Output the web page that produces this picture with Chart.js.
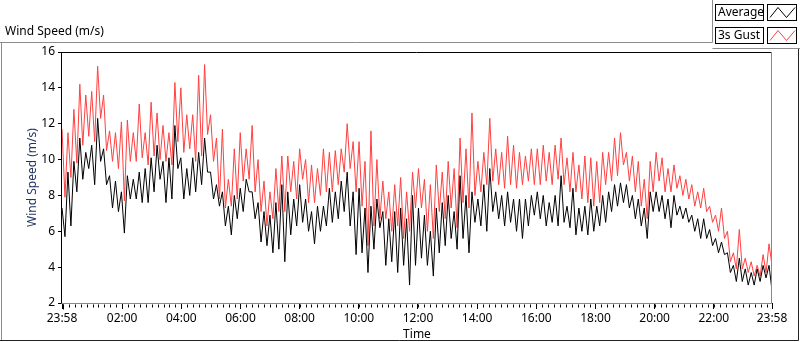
<!DOCTYPE html>
<html>
<head>
<meta charset="utf-8">
<script src="https://cdn.jsdelivr.net/npm/chart.js@4.4.1/dist/chart.umd.min.js"></script>
<style>
  html, body { margin: 0; padding: 0; background: #fff; }
  #wrap { width: 800px; height: 342px; position: relative; }
</style>
</head>
<body>
<div id="wrap"><canvas id="windChart" width="800" height="342"></canvas></div>
<script>
// Values, one high/low pair per ~12 minutes of the day
const averageSpeed = [
  7.3,5.7, 9.3,6.3, 9.9,8.2, 11.2,8.9, 10.4,9.5, 10.8,8.6, 12.3,9.9, 10.6,8.6, 9.1,7.3, 8.8,7.1,
  8.2,5.9, 9.1,7.8, 8.9,7.8, 9.3,7.6, 9.5,7.6, 10.1,8.2, 10.8,8.9, 9.9,7.6, 10.1,7.8, 11.9,9.5,
  10.1,7.8, 9.5,8.0, 10.1,8.2, 10.4,8.6, 11.2,9.3, 9.3,7.8, 8.6,7.4, 8.2,6.3, 7.4,5.8, 8.0,6.7,
  8.4,7.1, 8.9,8.2, 8.2,6.7, 7.6,5.4, 7.1,5.2, 6.9,4.8, 7.6,5.0, 8.6,4.3, 8.2,5.8, 7.8,6.3,
  8.6,6.5, 7.8,6.0, 7.1,5.3, 7.4,6.0, 7.4,6.3, 8.4,6.5, 8.2,6.7, 8.8,7.1, 9.3,6.3, 8.2,4.7,
  8.4,4.8, 7.3,3.7, 7.4,5.0, 7.8,6.2, 7.1,4.1, 6.7,4.3, 7.1,3.7, 7.3,4.1, 6.7,3.0, 8.0,4.1,
  7.3,4.5, 6.9,4.1, 6.0,3.5, 7.3,4.8, 7.6,5.2, 8.0,5.6, 7.1,5.0, 9.1,5.6, 8.0,4.8, 8.2,6.5,
  7.8,6.3, 8.6,6.0, 9.5,7.1, 8.2,6.7, 8.0,6.3, 8.2,6.5, 7.8,6.0, 7.8,5.6, 7.8,6.3, 8.0,6.9,
  8.2,6.7, 8.0,6.3, 7.6,6.5, 8.0,6.3, 9.1,6.5, 7.4,6.2, 8.4,5.8, 7.3,6.0, 7.4,5.8, 7.8,6.0,
  7.4,6.3, 8.0,6.5, 8.2,7.1, 8.6,7.4, 8.7,7.6, 8.6,7.3, 8.0,6.7, 7.8,6.3, 7.3,5.6, 8.2,7.1,
  8.2,7.1, 8.0,6.7, 7.8,6.2, 8.0,6.9, 7.4,6.7, 7.3,6.5, 6.9,6.0, 6.7,5.6, 6.7,5.6, 6.1,5.2,
  5.6,4.8, 5.4,4.7, 4.8,3.7, 4.1,3.2, 4.5,3.2, 3.9,3.0, 3.7,3.0, 3.9,3.2, 4.1,3.4, 4.1,2.7
];
const gustSpeed = [
  11.7,7.9, 11.5,9.0, 12.8,9.8, 14.2,10.8, 13.6,11.3, 13.8,11.0, 15.2,12.3, 13.6,10.5, 11.6,9.9, 11.5,9.5,
  12.1,7.7, 12.2,9.9, 11.5,9.9, 13.1,10.1, 11.5,9.7, 13.2,10.2, 12.6,10.0, 11.9,9.9, 11.5,9.7, 14.3,11.0,
  14.0,10.4, 12.5,10.6, 12.5,9.9, 14.7,10.2, 15.3,11.4, 12.5,9.9, 11.2,7.8, 11.7,7.3, 8.9,7.4, 10.6,7.8,
  11.5,8.8, 10.6,8.9, 11.9,8.2, 10.0,7.1, 8.8,6.3, 8.2,6.7, 9.5,7.1, 10.2,7.1, 10.2,8.2, 9.9,7.8,
  10.6,8.9, 10.0,7.6, 9.7,7.6, 9.5,8.0, 10.6,8.2, 10.4,8.2, 10.5,8.6, 10.6,9.3, 12.0,9.5, 11.0,8.2,
  11.0,7.4, 9.9,5.2, 11.6,6.3, 10.0,6.7, 8.8,6.7, 8.2,6.0, 8.6,6.3, 9.0,5.6, 8.2,6.0, 9.3,7.3,
  9.5,7.3, 8.9,6.0, 8.6,5.6, 9.7,7.1, 9.3,6.7, 9.9,7.3, 9.5,6.2, 11.2,7.6, 10.6,7.3, 12.6,8.0,
  9.9,8.2, 10.4,8.6, 12.3,8.8, 10.6,8.6, 10.4,8.4, 11.3,8.6, 10.8,8.4, 10.4,8.6, 10.2,8.8, 10.6,8.6,
  10.6,8.6, 10.8,8.8, 10.4,8.6, 10.8,8.9, 11.2,8.6, 10.1,8.2, 10.4,8.2, 9.7,7.8, 10.2,7.6, 10.1,7.4,
  9.9,7.6, 10.4,8.6, 10.4,8.8, 11.2,9.1, 11.5,9.7, 10.4,8.8, 10.2,8.2, 9.9,7.4, 8.9,6.7, 9.9,8.2,
  10.4,8.8, 10.1,8.2, 9.5,8.2, 9.7,8.4, 9.1,8.0, 8.9,7.8, 8.6,7.4, 8.2,7.3, 8.4,7.1, 7.4,6.5,
  6.9,6.0, 7.3,5.6, 6.0,4.3, 4.8,3.9, 6.1,3.9, 4.5,3.7, 4.3,3.5, 4.1,3.5, 4.7,3.7, 5.3,4.1
];

const timeLabels = ['23:58', '02:00', '04:00', '06:00', '08:00', '10:00', '12:00',
                    '14:00', '16:00', '18:00', '20:00', '22:00', '23:58'];
const timeTicks = [0, 122, 242, 362, 482, 602, 722, 842, 962, 1082, 1202, 1322, 1440]; // minutes since 23:58
const speedTicks = [2, 4, 6, 8, 10, 12, 14, 16];

const DAY = 1440;
function toPoints(values) {
    const step = DAY / (values.length - 1);
    return values.map(function (v, i) { return { x: i * step, y: v }; });
}

const FONT = "'Noto Sans', sans-serif";
Chart.defaults.font.family = FONT;
Chart.defaults.font.size = 12;
Chart.defaults.color = '#000';

// frame, minor ticks and the LabVIEW style legend
const panelPlugin = {
    id: 'panel',
    beforeDraw(chart) {
        const c = chart.ctx;
        c.save();
        c.fillStyle = '#fff';
        c.fillRect(0, 0, chart.width, chart.height);
        c.fillStyle = '#000';
        c.font = '12px ' + FONT;
        c.textBaseline = 'middle';
        c.fillText('Wind Speed (m/s)', 5, 32);
        c.restore();
    },
    afterDraw(chart) {
        const c = chart.ctx;
        const a = chart.chartArea;
        const xs = chart.scales.x;
        c.save();
        c.lineWidth = 1;

        // outer panel
        c.strokeStyle = '#8c8c8c';
        c.beginPath();
        c.moveTo(0, 42.5); c.lineTo(712.5, 42.5); c.lineTo(712.5, 0);
        c.moveTo(712.5, 48.5); c.lineTo(800, 48.5);
        c.moveTo(1.5, 42.5); c.lineTo(1.5, 341);
        c.stroke();
        c.strokeStyle = '#222';
        c.beginPath();
        c.moveTo(0, 340.5); c.lineTo(798.5, 340.5); c.lineTo(798.5, 49);
        c.stroke();

        // plot frame
        const L = Math.round(a.left) - 0.5, R = Math.round(a.right) - 0.5;
        const T = Math.round(a.top) + 0.5, B = Math.round(a.bottom) + 0.5;
        c.strokeStyle = '#000';
        c.beginPath();
        c.moveTo(L, B); c.lineTo(L, T); c.lineTo(R, T);
        c.stroke();
        c.strokeStyle = '#888';
        c.beginPath();
        c.moveTo(R, T); c.lineTo(R, B); c.lineTo(L, B);
        c.stroke();

        // minor time ticks every 12 minutes
        c.strokeStyle = '#000';
        c.beginPath();
        for (let m = 2; m < DAY; m += 12) {
            const px = Math.round(xs.getPixelForValue(m)) + 0.5;
            c.moveTo(px, B + 1); c.lineTo(px, B + 4);
        }
        const p0 = Math.round(xs.getPixelForValue(0)) + 0.5;
        c.moveTo(p0 + 1, B + 1); c.lineTo(p0 + 1, B + 6);
        c.stroke();

        // legend
        c.font = '12px ' + FONT;
        c.textBaseline = 'middle';
        chart.data.datasets.forEach(function (ds, i) {
            const top = 4.5 + i * 23;
            c.fillStyle = '#fff';
            c.fillRect(715, top, 48, 16);
            c.fillRect(767, top, 30, 16);
            c.strokeStyle = '#000';
            c.strokeRect(715.5, top, 48, 16);
            c.strokeRect(767.5, top, 29, 16);
            c.fillStyle = '#000';
            c.fillText(ds.label, 718, top + 8.5);
            c.strokeStyle = ds.borderColor;
            c.beginPath();
            c.moveTo(770, top + 13); c.lineTo(778, top + 3);
            c.lineTo(786.5, top + 13); c.lineTo(795, top + 3);
            c.stroke();
        });
        c.restore();
    }
};

new Chart(document.getElementById('windChart'), {
    type: 'line',
    data: {
        datasets: [
            {
                label: 'Average',
                data: toPoints(averageSpeed),
                borderColor: '#000000',
                borderWidth: 1,
                pointRadius: 0,
                tension: 0,
                order: 1
            },
            {
                label: '3s Gust',
                data: toPoints(gustSpeed),
                borderColor: '#ff4040',
                borderWidth: 1,
                pointRadius: 0,
                tension: 0,
                order: 2
            }
        ]
    },
    options: {
        responsive: false,
        animation: false,
        events: [],
        layout: { padding: { left: 0, right: 28, top: 52, bottom: 0 } },
        plugins: {
            legend: { display: false },
            tooltip: { enabled: false }
        },
        scales: {
            x: {
                type: 'linear',
                min: 0,
                max: DAY,
                afterBuildTicks: function (scale) {
                    scale.ticks = timeTicks.map(function (v) { return { value: v }; });
                },
                afterFit: function (scale) { scale.height = 39; },
                grid: { drawOnChartArea: false, drawTicks: true, tickLength: 6, color: '#000' },
                border: { display: false },
                ticks: {
                    autoSkip: false,
                    maxRotation: 0,
                    padding: 2,
                    color: '#000',
                    font: { size: 12 },
                    callback: function (v, i) { return timeLabels[i]; }
                },
                title: {
                    display: true,
                    text: 'Time',
                    color: '#000',
                    font: { size: 12 },
                    padding: { top: 0, bottom: 0 }
                }
            },
            y: {
                min: 2,
                max: 16,
                afterBuildTicks: function (scale) {
                    scale.ticks = speedTicks.map(function (v) { return { value: v }; });
                },
                afterFit: function (scale) { scale.width = 62; },
                grid: { drawOnChartArea: false, drawTicks: true, tickLength: 4, color: '#000' },
                border: { display: false },
                ticks: { padding: 3, color: '#000', font: { size: 12 } },
                title: {
                    display: true,
                    text: 'Wind Speed (m/s)',
                    color: '#1f3563',
                    font: { size: 12 },
                    padding: { top: 25, bottom: 0 }
                }
            }
        }
    },
    plugins: [panelPlugin]
});
</script>
</body>
</html>
